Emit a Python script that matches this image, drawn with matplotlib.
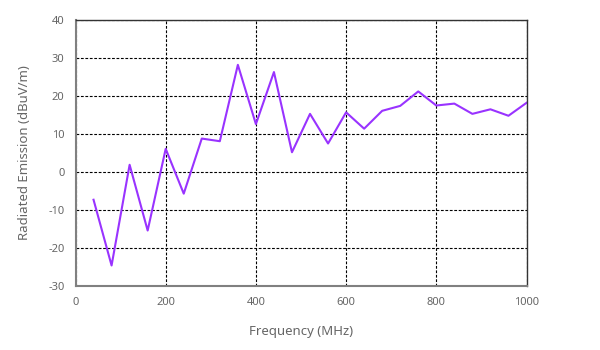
import matplotlib
matplotlib.use('Agg')
import matplotlib.pyplot as plt

freq = [40, 80, 120, 160, 200, 240, 280, 320, 360, 400, 440, 480, 520,
        560, 600, 640, 680, 720, 760, 800, 840, 880, 920, 960, 1000]
emission = [-7.3, -24.6, 1.9, -15.4, 6.1, -5.7, 8.8, 8.1, 28.2, 12.6, 26.3, 5.2, 15.3,
            7.5, 15.7, 11.4, 16.1, 17.4, 21.2, 17.5, 18.0, 15.3, 16.5, 14.8, 18.2]

xticks = [0, 200, 400, 600, 800, 1000]
yticks = [-30, -20, -10, 0, 10, 20, 30, 40]

plt.rcParams['font.family'] = ['Noto Sans', 'DejaVu Sans']
plt.rcParams['axes.unicode_minus'] = False

fig = plt.figure(figsize=(6, 3.5), dpi=100)
ax = fig.add_axes([75.5 / 600, 1 - 286 / 350, 451 / 600, 266 / 350])

ax.plot(freq, emission, color='#9933ff', linewidth=1.5)

ax.set_xlim(0, 1000)
ax.set_ylim(-30, 40)
ax.set_xticks(xticks)
ax.set_yticks(yticks)
ax.grid(True, color='black', linestyle=(0, (2.5, 1.5)), linewidth=0.8)
ax.tick_params(length=0, labelsize=8, labelcolor='#666666', pad=8)

for s in ['left', 'bottom']:
    ax.spines[s].set_color('#808080')
    ax.spines[s].set_linewidth(1.5)
for s in ['top', 'right']:
    ax.spines[s].set_color('#333333')
    ax.spines[s].set_linewidth(1.0)

ax.set_xlabel('Frequency (MHz)', fontsize=9.5, color='#666666', labelpad=12)
ax.set_ylabel('Radiated Emission (dBuV/m)', fontsize=9.5, color='#666666', labelpad=12)

fig.savefig('out.png', dpi=100)
